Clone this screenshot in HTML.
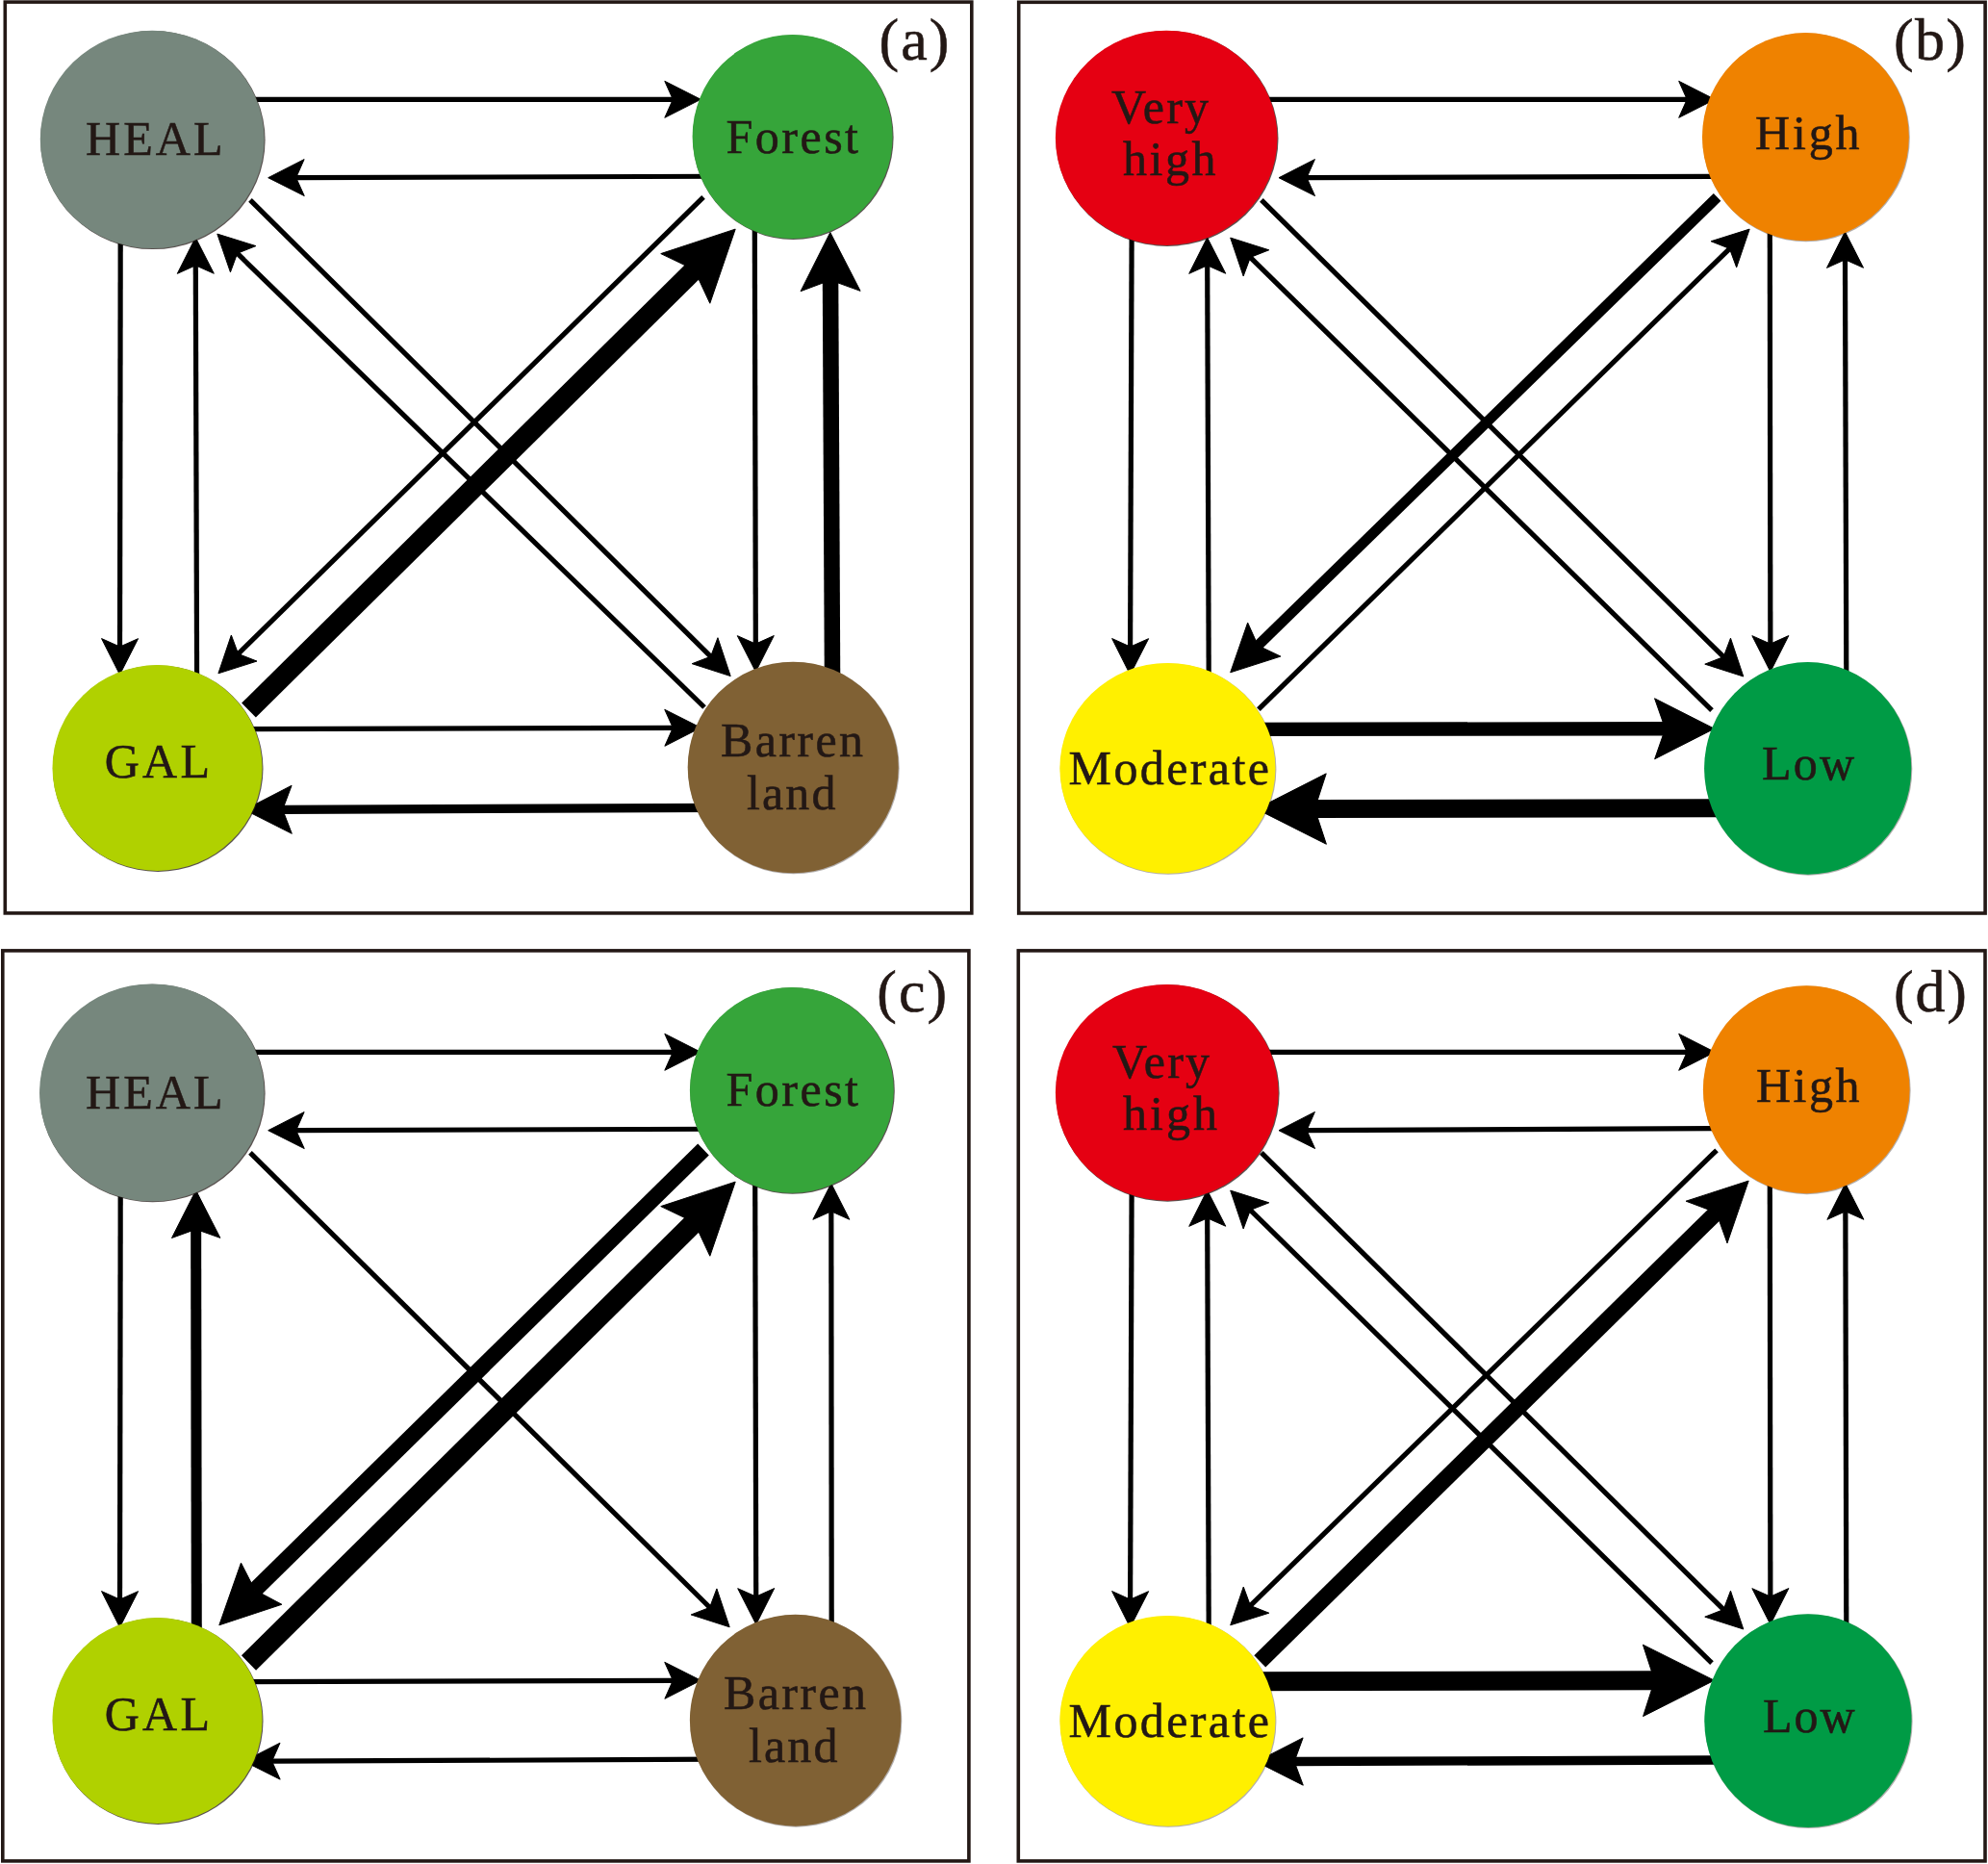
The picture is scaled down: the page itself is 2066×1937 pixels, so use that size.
<!DOCTYPE html>
<html lang="en"><head><meta charset="utf-8"><title>Transition diagrams</title>
<style>html,body{margin:0;padding:0;background:#fff}svg{display:block}text{font-family:"Liberation Serif",serif;fill:#231815;stroke:#231815;stroke-width:0.55px}</style></head><body>
<svg width="2066" height="1937" viewBox="0 0 2066 1937">
<rect width="2066" height="1937" fill="#fff"/>
<g fill="none" stroke="#231815" stroke-width="3.6">
<rect x="5.30" y="2.10" width="1004.50" height="946.80"/>
<rect x="1058.70" y="2.30" width="1004.40" height="946.70"/>
<rect x="2.80" y="987.90" width="1004.10" height="946.00"/>
<rect x="1058.30" y="987.90" width="1004.70" height="946.00"/>
</g>
<g stroke="#000000" fill="#000000" stroke-linecap="butt">
<line x1="247.00" y1="103.30" x2="699.80" y2="103.30" stroke-width="5.2"/><polygon points="728.30,103.30 690.80,122.30 699.30,103.30 690.80,84.30"/>
<line x1="748.00" y1="183.24" x2="307.20" y2="184.61" stroke-width="5.2"/><polygon points="278.70,184.70 316.14,165.58 307.70,184.61 316.26,203.58"/>
<line x1="125.23" y1="232.00" x2="124.54" y2="672.60" stroke-width="5.2"/><polygon points="124.50,701.10 105.56,663.57 124.55,672.10 143.56,663.63"/>
<line x1="204.65" y1="723.00" x2="203.29" y2="275.30" stroke-width="5.2"/><polygon points="203.20,246.80 222.31,284.24 203.29,275.80 184.31,284.36"/>
<line x1="784.26" y1="222.00" x2="785.33" y2="669.60" stroke-width="5.2"/><polygon points="785.40,698.10 766.31,660.65 785.33,669.10 804.31,660.55"/>
<line x1="865.09" y1="718.00" x2="863.04" y2="290.60" stroke-width="16.5"/><polygon points="862.80,241.50 894.09,302.35 863.04,291.10 832.09,302.65"/>
<line x1="244.00" y1="757.65" x2="699.80" y2="756.29" stroke-width="5.2"/><polygon points="728.30,756.20 690.86,775.31 699.30,756.29 690.74,737.31"/>
<line x1="746.00" y1="839.42" x2="293.20" y2="841.34" stroke-width="9.3"/><polygon points="254.20,841.50 303.09,816.29 293.70,841.33 303.31,866.29"/>
<line x1="260.00" y1="207.90" x2="738.96" y2="682.54" stroke-width="5.2"/><polygon points="759.20,702.60 719.19,689.70 738.60,682.19 745.94,662.71"/>
<line x1="732.00" y1="735.00" x2="246.24" y2="262.96" stroke-width="5.2"/><polygon points="225.80,243.10 265.93,255.61 246.60,263.31 239.45,282.86"/>
<line x1="731.00" y1="204.90" x2="247.24" y2="679.83" stroke-width="5.2"/><polygon points="226.90,699.80 240.35,659.97 247.59,679.48 266.97,687.09"/>
<line x1="258.50" y1="738.00" x2="721.89" y2="279.93" stroke-width="21"/><polygon points="764.20,238.10 737.80,315.24 721.53,280.28 686.76,263.60"/>
<line x1="1300.00" y1="103.30" x2="1753.70" y2="103.30" stroke-width="5.2"/><polygon points="1782.20,103.30 1744.70,122.30 1753.20,103.30 1744.70,84.30"/>
<line x1="1800.00" y1="183.24" x2="1357.50" y2="184.61" stroke-width="5.2"/><polygon points="1329.00,184.70 1366.44,165.58 1358.00,184.61 1366.56,203.58"/>
<line x1="1176.16" y1="232.00" x2="1174.60" y2="672.60" stroke-width="5.2"/><polygon points="1174.50,701.10 1155.63,663.53 1174.60,672.10 1193.63,663.67"/>
<line x1="1256.26" y1="718.00" x2="1254.70" y2="275.30" stroke-width="5.2"/><polygon points="1254.60,246.80 1273.73,284.23 1254.70,275.80 1235.73,284.37"/>
<line x1="1839.28" y1="227.00" x2="1839.86" y2="669.60" stroke-width="5.2"/><polygon points="1839.90,698.10 1820.85,660.63 1839.86,669.10 1858.85,660.57"/>
<line x1="1918.85" y1="718.00" x2="1917.49" y2="269.30" stroke-width="5.2"/><polygon points="1917.40,240.80 1936.51,278.24 1917.49,269.80 1898.51,278.36"/>
<line x1="1297.00" y1="757.82" x2="1731.10" y2="757.26" stroke-width="14.3"/><polygon points="1781.60,757.20 1719.64,788.78 1730.60,757.27 1719.56,725.78"/>
<line x1="1803.00" y1="839.66" x2="1365.80" y2="840.57" stroke-width="19"/><polygon points="1305.80,840.70 1378.22,803.85 1366.30,840.57 1378.38,877.25"/>
<line x1="1310.90" y1="207.90" x2="1791.53" y2="682.97" stroke-width="5.2"/><polygon points="1811.80,703.00 1771.77,690.15 1791.17,682.61 1798.49,663.13"/>
<line x1="1779.00" y1="738.10" x2="1299.04" y2="267.06" stroke-width="5.2"/><polygon points="1278.70,247.10 1318.77,259.81 1299.40,267.41 1292.16,286.93"/>
<line x1="1784.60" y1="204.90" x2="1306.96" y2="671.21" stroke-width="10.8"/><polygon points="1278.70,698.80 1296.65,647.04 1307.32,670.86 1330.88,682.10"/>
<line x1="1307.90" y1="737.10" x2="1797.82" y2="258.03" stroke-width="5.2"/><polygon points="1818.20,238.10 1804.67,277.90 1797.47,258.38 1778.10,250.73"/>
<line x1="247.00" y1="1093.30" x2="699.80" y2="1093.30" stroke-width="5.2"/><polygon points="728.30,1093.30 690.80,1112.30 699.30,1093.30 690.80,1074.30"/>
<line x1="748.00" y1="1173.24" x2="307.20" y2="1174.61" stroke-width="5.2"/><polygon points="278.70,1174.70 316.14,1155.58 307.70,1174.61 316.26,1193.58"/>
<line x1="125.23" y1="1222.00" x2="124.54" y2="1662.60" stroke-width="5.2"/><polygon points="124.50,1691.10 105.56,1653.57 124.55,1662.10 143.56,1653.63"/>
<line x1="204.33" y1="1713.00" x2="203.66" y2="1276.90" stroke-width="11"/><polygon points="203.60,1236.90 228.83,1286.36 203.66,1277.40 178.53,1286.44"/>
<line x1="784.66" y1="1212.00" x2="785.73" y2="1659.60" stroke-width="5.2"/><polygon points="785.80,1688.10 766.71,1650.65 785.73,1659.10 804.71,1650.55"/>
<line x1="864.22" y1="1708.00" x2="863.82" y2="1258.30" stroke-width="5.2"/><polygon points="863.80,1229.80 882.83,1267.28 863.83,1258.80 844.83,1267.32"/>
<line x1="244.00" y1="1747.65" x2="699.80" y2="1746.29" stroke-width="5.2"/><polygon points="728.30,1746.20 690.86,1765.31 699.30,1746.29 690.74,1727.31"/>
<line x1="746.00" y1="1828.22" x2="282.10" y2="1830.18" stroke-width="5.2"/><polygon points="253.60,1830.30 291.02,1811.14 282.60,1830.18 291.18,1849.14"/>
<line x1="260.00" y1="1197.90" x2="737.94" y2="1670.76" stroke-width="5.2"/><polygon points="758.20,1690.80 718.18,1677.93 737.58,1670.40 744.91,1650.92"/>
<line x1="731.00" y1="1194.50" x2="264.54" y2="1652.71" stroke-width="16.5"/><polygon points="227.80,1688.80 250.48,1624.12 264.90,1652.36 292.87,1667.28"/>
<line x1="258.50" y1="1728.00" x2="721.89" y2="1269.93" stroke-width="21.5"/><polygon points="764.20,1228.10 737.80,1305.24 721.53,1270.28 686.76,1253.60"/>
<line x1="1300.00" y1="1093.30" x2="1753.70" y2="1093.30" stroke-width="5.2"/><polygon points="1782.20,1093.30 1744.70,1112.30 1753.20,1093.30 1744.70,1074.30"/>
<line x1="1800.00" y1="1172.62" x2="1357.50" y2="1174.57" stroke-width="5.2"/><polygon points="1329.00,1174.70 1366.42,1155.53 1358.00,1174.57 1366.58,1193.53"/>
<line x1="1176.16" y1="1222.00" x2="1174.60" y2="1662.60" stroke-width="5.2"/><polygon points="1174.50,1691.10 1155.63,1653.53 1174.60,1662.10 1193.63,1653.67"/>
<line x1="1256.26" y1="1708.00" x2="1254.70" y2="1265.30" stroke-width="5.2"/><polygon points="1254.60,1236.80 1273.73,1274.23 1254.70,1265.80 1235.73,1274.37"/>
<line x1="1839.28" y1="1217.00" x2="1839.86" y2="1659.60" stroke-width="5.2"/><polygon points="1839.90,1688.10 1820.85,1650.63 1839.86,1659.10 1858.85,1650.57"/>
<line x1="1918.84" y1="1708.00" x2="1917.86" y2="1258.30" stroke-width="5.2"/><polygon points="1917.80,1229.80 1936.88,1267.26 1917.86,1258.80 1898.88,1267.34"/>
<line x1="1297.00" y1="1747.24" x2="1720.00" y2="1746.33" stroke-width="20"/><polygon points="1781.50,1746.20 1707.58,1783.56 1719.50,1746.33 1707.42,1709.16"/>
<line x1="1803.00" y1="1828.94" x2="1344.60" y2="1830.56" stroke-width="9.4"/><polygon points="1305.70,1830.70 1354.11,1805.88 1345.10,1830.56 1354.29,1855.18"/>
<line x1="1310.90" y1="1197.90" x2="1791.53" y2="1672.97" stroke-width="5.2"/><polygon points="1811.80,1693.00 1771.77,1680.15 1791.17,1672.61 1798.49,1653.13"/>
<line x1="1779.00" y1="1728.10" x2="1299.04" y2="1257.06" stroke-width="5.2"/><polygon points="1278.70,1237.10 1318.77,1249.81 1299.40,1257.41 1292.16,1276.93"/>
<line x1="1784.00" y1="1195.30" x2="1299.09" y2="1668.89" stroke-width="5.2"/><polygon points="1278.70,1688.80 1292.25,1649.01 1299.45,1668.54 1318.80,1676.19"/>
<line x1="1309.30" y1="1726.40" x2="1784.04" y2="1259.70" stroke-width="17"/><polygon points="1817.20,1227.10 1795.01,1291.83 1783.68,1260.05 1752.11,1248.18"/>
</g>
<g>
<ellipse cx="158.89999999999998" cy="145.6" rx="116.7" ry="113.5" fill="#231815" fill-opacity="0.75"/>
<ellipse cx="158.2" cy="144.9" rx="116.4" ry="113.2" fill="#76877d"/>
<ellipse cx="824.3000000000001" cy="142.7" rx="104.3" ry="106.3" fill="#231815" fill-opacity="0.75"/>
<ellipse cx="823.6" cy="142.0" rx="104.0" ry="106.0" fill="#36a53a"/>
<ellipse cx="164.2" cy="798.7" rx="109.3" ry="107.2" fill="#231815" fill-opacity="0.75"/>
<ellipse cx="163.5" cy="798.0" rx="109.0" ry="106.9" fill="#b0d100"/>
<ellipse cx="824.9000000000001" cy="798.2" rx="109.8" ry="110.1" fill="#231815" fill-opacity="0.35"/>
<ellipse cx="824.2" cy="797.5" rx="109.5" ry="109.8" fill="#806134"/>
<ellipse cx="1212.9" cy="144.0" rx="115.6" ry="111.89999999999999" fill="#231815" fill-opacity="0.75"/>
<ellipse cx="1212.2" cy="143.3" rx="115.3" ry="111.6" fill="#e50012"/>
<ellipse cx="1877.1000000000001" cy="142.89999999999998" rx="107.7" ry="108.39999999999999" fill="#231815" fill-opacity="0.35"/>
<ellipse cx="1876.4" cy="142.2" rx="107.4" ry="108.1" fill="#ef8200"/>
<ellipse cx="1214.1000000000001" cy="799.1" rx="112.3" ry="109.7" fill="#231815" fill-opacity="0.35"/>
<ellipse cx="1213.4" cy="798.4" rx="112.0" ry="109.4" fill="#fff000"/>
<ellipse cx="1879.4" cy="799.1" rx="107.89999999999999" ry="110.6" fill="#231815" fill-opacity="0.35"/>
<ellipse cx="1878.7" cy="798.4" rx="107.6" ry="110.3" fill="#009b45"/>
<ellipse cx="158.54999999999998" cy="1136.05" rx="117.05" ry="113.25" fill="#231815" fill-opacity="0.75"/>
<ellipse cx="157.85" cy="1135.35" rx="116.75" ry="112.95" fill="#76877d"/>
<ellipse cx="823.5500000000001" cy="1133.5" rx="106.25" ry="107.2" fill="#231815" fill-opacity="0.75"/>
<ellipse cx="822.85" cy="1132.8" rx="105.95" ry="106.9" fill="#36a53a"/>
<ellipse cx="164.2" cy="1788.7" rx="109.3" ry="107.2" fill="#231815" fill-opacity="0.75"/>
<ellipse cx="163.5" cy="1788.0" rx="109.0" ry="106.9" fill="#b0d100"/>
<ellipse cx="827.3000000000001" cy="1788.45" rx="110.0" ry="110.25" fill="#231815" fill-opacity="0.35"/>
<ellipse cx="826.6" cy="1787.75" rx="109.7" ry="109.95" fill="#806134"/>
<ellipse cx="1213.45" cy="1136.0" rx="116.14999999999999" ry="112.64999999999999" fill="#231815" fill-opacity="0.75"/>
<ellipse cx="1212.75" cy="1135.3" rx="115.85" ry="112.35" fill="#e50012"/>
<ellipse cx="1877.95" cy="1132.9" rx="107.64999999999999" ry="108.3" fill="#231815" fill-opacity="0.35"/>
<ellipse cx="1877.25" cy="1132.2" rx="107.35" ry="108.0" fill="#ef8200"/>
<ellipse cx="1214.1000000000001" cy="1789.1000000000001" rx="112.3" ry="109.7" fill="#231815" fill-opacity="0.35"/>
<ellipse cx="1213.4" cy="1788.4" rx="112.0" ry="109.4" fill="#fff000"/>
<ellipse cx="1879.65" cy="1788.8500000000001" rx="107.95" ry="111.25" fill="#231815" fill-opacity="0.35"/>
<ellipse cx="1878.95" cy="1788.15" rx="107.65" ry="110.95" fill="#009b45"/>
</g>
<text id="t0" x="89.00" y="161.10" font-size="50" textLength="142.50" lengthAdjust="spacing">HEAL</text>
<text id="t1" x="754.50" y="158.70" font-size="50" textLength="137.50" lengthAdjust="spacing">Forest</text>
<text id="t2" x="108.70" y="807.50" font-size="50" textLength="109.30" lengthAdjust="spacing">GAL</text>
<text id="t3" x="749.00" y="786.20" font-size="50" textLength="148.00" lengthAdjust="spacing">Barren</text>
<text id="t4" x="776.00" y="841.10" font-size="50" textLength="92.50" lengthAdjust="spacing">land</text>
<text id="t5" x="1155.00" y="127.70" font-size="50" textLength="101.00" lengthAdjust="spacing">Very</text>
<text id="t6" x="1167.00" y="182.00" font-size="50" textLength="96.50" lengthAdjust="spacing">high</text>
<text id="t7" x="1824.00" y="155.20" font-size="50" textLength="108.50" lengthAdjust="spacing">High</text>
<text id="t8" x="1110.50" y="814.80" font-size="50" textLength="208.50" lengthAdjust="spacing">Moderate</text>
<text id="t9" x="1831.00" y="810.40" font-size="50" textLength="96.00" lengthAdjust="spacing">Low</text>
<text id="t10" x="89.00" y="1152.30" font-size="50" textLength="142.50" lengthAdjust="spacing">HEAL</text>
<text id="t11" x="754.50" y="1148.70" font-size="50" textLength="137.50" lengthAdjust="spacing">Forest</text>
<text id="t12" x="108.70" y="1797.50" font-size="50" textLength="109.30" lengthAdjust="spacing">GAL</text>
<text id="t13" x="752.00" y="1776.20" font-size="50" textLength="148.00" lengthAdjust="spacing">Barren</text>
<text id="t14" x="778.00" y="1831.10" font-size="50" textLength="92.50" lengthAdjust="spacing">land</text>
<text id="t15" x="1156.00" y="1119.80" font-size="50" textLength="101.00" lengthAdjust="spacing">Very</text>
<text id="t16" x="1167.00" y="1174.00" font-size="50" textLength="98.00" lengthAdjust="spacing">high</text>
<text id="t17" x="1825.00" y="1144.70" font-size="50" textLength="107.50" lengthAdjust="spacing">High</text>
<text id="t18" x="1110.50" y="1805.00" font-size="50" textLength="208.50" lengthAdjust="spacing">Moderate</text>
<text id="t19" x="1832.00" y="1800.00" font-size="50" textLength="95.50" lengthAdjust="spacing">Low</text>
<text id="t20" x="913.50" y="61.80" font-size="62" textLength="72.80" lengthAdjust="spacing">(a)</text>
<text id="t21" x="1968.00" y="61.70" font-size="62" textLength="75.00" lengthAdjust="spacing">(b)</text>
<text id="t22" x="911.30" y="1051.10" font-size="62" textLength="72.90" lengthAdjust="spacing">(c)</text>
<text id="t23" x="1968.00" y="1051.20" font-size="62" textLength="75.80" lengthAdjust="spacing">(d)</text>
</svg></body></html>
